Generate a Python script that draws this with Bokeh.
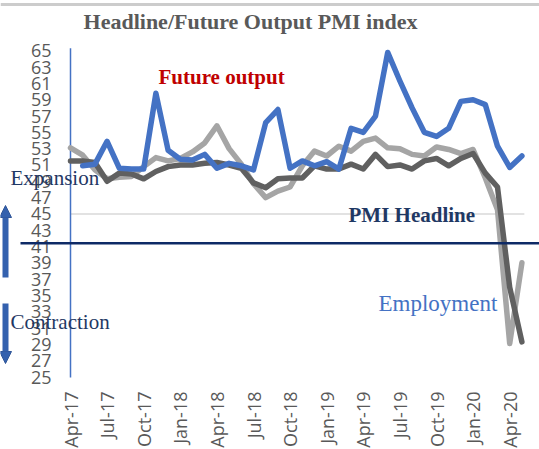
import math
from bokeh.plotting import figure
from bokeh.models import Range1d, Arrow, NormalHead, ColumnDataSource
from bokeh.core.properties import value
from bokeh.embed import file_html
from bokeh.resources import INLINE

months = ["Apr-17","May-17","Jun-17","Jul-17","Aug-17","Sep-17","Oct-17","Nov-17","Dec-17",
          "Jan-18","Feb-18","Mar-18","Apr-18","May-18","Jun-18","Jul-18","Aug-18","Sep-18",
          "Oct-18","Nov-18","Dec-18","Jan-19","Feb-19","Mar-19","Apr-19","May-19","Jun-19",
          "Jul-19","Aug-19","Sep-19","Oct-19","Nov-19","Dec-19","Jan-20","Feb-20","Mar-20",
          "Apr-20","May-20"]
nan = float("nan")
future_output = [nan, 50.9, 51.1, 53.9, 50.6, 50.5, 50.5, 59.8, 52.8, 51.7, 51.6, 52.3, 50.6,
                 51.2, 50.9, 50.4, 56.2, 57.8, 50.6, 51.5, 50.9, 51.4, 50.5, 55.5, 55.0, 57.0,
                 64.8, 61.3, 58.0, 55.0, 54.5, 55.5, 58.8, 59.0, 58.4, 53.3, 50.7, 52.1]
pmi_headline = [51.5, 51.5, 51.3, 49.0, 50.0, 49.9, 49.3, 50.2, 50.8, 51.0, 51.0, 51.2, 51.3,
                51.0, 50.6, 48.8, 48.2, 49.3, 49.4, 49.4, 50.9, 50.5, 50.5, 51.1, 50.5, 52.3,
                50.8, 51.0, 50.5, 51.5, 51.8, 50.9, 51.8, 52.4, 50.0, 48.3, 36.0, 29.3]
employment = [53.1, 52.2, 50.4, 49.3, 49.5, 49.6, 50.8, 51.9, 51.5, 51.8, 52.6, 53.7, 55.8,
              53.0, 51.1, 48.7, 47.0, 47.8, 48.3, 50.9, 52.7, 52.1, 53.3, 52.7, 53.9, 54.3,
              53.1, 53.0, 52.3, 52.1, 53.2, 52.9, 52.4, 52.9, 49.4, 45.5, 29.1, 39.0]
y_ticks = list(range(25, 66, 2))
x_tick_idx = list(range(0, len(months), 3))
y_min, y_max = 25, 65.2

idx = list(range(len(months)))
src = ColumnDataSource(dict(x=idx, fo=future_output, pmi=pmi_headline, emp=employment))

# The frame fills the whole canvas; axes are drawn by hand so nothing is clipped.
W, H = 539, 449
PX_X = 12.2      # pixels per month
PX_Y = 8.155     # pixels per index point
X0, YB = 70, 376.5  # screen position of first month / of y_min
p = figure(width=W, height=H, output_backend="svg", toolbar_location=None,
           x_range=Range1d(-X0 / PX_X, (W - X0) / PX_X),
           y_range=Range1d(y_min - (H - YB) / PX_Y, y_min + YB / PX_Y),
           min_border=0)
p.axis.visible = False
p.grid.visible = False
p.outline_line_color = None
p.background_fill_color = "white"
p.border_fill_color = "white"

def dx(px):  # screen px -> data x
    return (px - X0) / PX_X
def dy(py):  # screen py -> data y
    return y_min + (YB - py) / PX_Y

# top border strip
p.segment(x0=[dx(0)], y0=[dy(4)], x1=[dx(W)], y1=[dy(4)], line_color="#CCCCCC", line_width=3)

# gridline at 45
p.segment(x0=[0], y0=[45], x1=[len(months) - 0.8], y1=[45], line_color="#D9D9D9", line_width=1.5)

# y axis line
p.segment(x0=[0], y0=[y_min - 0.05], x1=[0], y1=[y_max + 0.1], line_color="#4472C4", line_width=1.5)

# y tick labels
p.text(x=[dx(51)] * len(y_ticks), y=y_ticks, text=[str(t) for t in y_ticks],
       text_font=value("Open Sans"), text_font_size="18px", text_color="#595959",
       text_align="right", text_baseline="middle")

# x tick labels
p.text(x=x_tick_idx, y=[dy(391)] * len(x_tick_idx), text=[months[i] for i in x_tick_idx],
       angle=math.pi / 2, text_font=value("Open Sans"), text_font_size="18px",
       text_color="#595959", text_align="right", text_baseline="middle")

p.line("x", "emp", source=src, line_color="#A5A5A5", line_width=5.5, line_join="round", line_cap="round")
p.line("x", "pmi", source=src, line_color="#606060", line_width=5.5, line_join="round", line_cap="round")
p.line("x", "fo", source=src, line_color="#4472C4", line_width=5.5, line_join="round", line_cap="round")

# navy divider line
p.segment(x0=[dx(20)], y0=[41.4], x1=[dx(W)], y1=[41.4], line_color="#0E2A66", line_width=2.5)

# block arrows
p.add_layout(Arrow(x_start=dx(5), y_start=dy(277), x_end=dx(5), y_end=dy(205),
                   line_color="#3461AE", line_width=6,
                   end=NormalHead(size=12, fill_color="#3461AE", line_color="#2F5597")))
p.add_layout(Arrow(x_start=dx(5), y_start=dy(303), x_end=dx(5), y_end=dy(363),
                   line_color="#3461AE", line_width=6,
                   end=NormalHead(size=12, fill_color="#3461AE", line_color="#2F5597")))

serif = value("Liberation Serif")
def lab(px, py, text, color, size, style="normal", align="left"):
    p.text(x=[dx(px)], y=[dy(py)], text=[text], text_color=color, text_font=serif,
           text_font_size=size, text_font_style=style, text_align=align,
           text_baseline="middle")

lab(250, 21, "Headline/Future Output PMI index", "#595959", "22px", "bold", "center")
lab(158, 76, "Future output", "#C00000", "21px", "bold")
lab(348, 214, "PMI Headline", "#1F3864", "21px", "bold")
lab(378, 303, "Employment", "#4472C4", "23px")
lab(10, 177, "Expansion", "#1F3864", "21px")
lab(10, 321, "Contraction", "#1F3864", "21px")

open("out.html", "w").write(file_html(p, INLINE))
